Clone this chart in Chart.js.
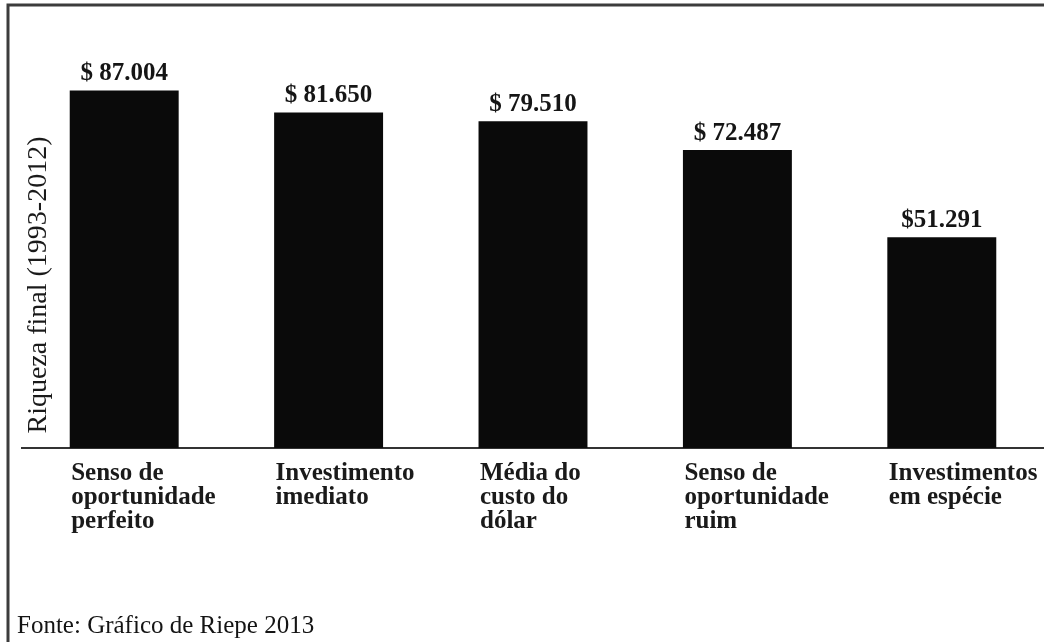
<!DOCTYPE html>
<html>
<head>
<meta charset="utf-8">
<script src="https://cdn.jsdelivr.net/npm/chart.js@4.4.1/dist/chart.umd.min.js"></script>
<style>
  body { margin: 0; background: #fff; }
  #wrap { width: 1044px; height: 642px; position: relative; }
</style>
</head>
<body>
<div id="wrap"><canvas id="graph"></canvas></div>
<script>
// data
const categories = [
    ['Senso de', 'oportunidade', 'perfeito'],
    ['Investimento', 'imediato'],
    ['Média do', 'custo do', 'dólar'],
    ['Senso de', 'oportunidade', 'ruim'],
    ['Investimentos', 'em espécie']
];
const wealth = [87004, 81650, 79510, 72487, 51291];
const valueLabels = ['$ 87.004', '$ 81.650', '$ 79.510', '$ 72.487', '$51.291'];
const axisTitle = 'Riqueza final (1993-2012)';
const source = 'Fonte: Gráfico de Riepe 2013';

const serif = '"Liberation Serif", "Times New Roman", serif';

// frame, y title, source line, value labels and the left aligned category labels
const extras = {
    id: 'extras',
    beforeDraw(chart) {
        const ctx = chart.ctx;
        ctx.save();
        ctx.fillStyle = '#fff';
        ctx.fillRect(0, 0, chart.width, chart.height);
        ctx.strokeStyle = '#3c3c3c';
        ctx.lineWidth = 3;
        ctx.beginPath();
        ctx.moveTo(8, chart.height);
        ctx.lineTo(8, 5);
        ctx.lineTo(chart.width, 5);
        ctx.stroke();
        ctx.restore();
    },
    afterDatasetsDraw(chart) {
        const ctx = chart.ctx;
        const area = chart.chartArea;
        const xScale = chart.scales.x;
        ctx.save();
        ctx.fillStyle = '#151515';
        ctx.font = 'bold 25px ' + serif;
        ctx.textAlign = 'center';
        ctx.textBaseline = 'alphabetic';
        chart.getDatasetMeta(0).data.forEach((bar, i) => {
            ctx.fillText(valueLabels[i], bar.x, bar.y - 10);
        });

        // category names, left edge lined up with the bar
        ctx.textAlign = 'left';
        ctx.fillStyle = '#1a1a1a';
        categories.forEach((lines, i) => {
            const x = xScale.getPixelForValue(i) - 53;
            lines.forEach((line, j) => {
                ctx.fillText(line, x, area.bottom + 32 + j * 24);
            });
        });

        // rotated y title
        ctx.textAlign = 'center';
        ctx.font = '28px ' + serif;
        ctx.translate(46, 285);
        ctx.rotate(-Math.PI / 2);
        ctx.fillText(axisTitle, 0, 0);
        ctx.restore();

        ctx.save();
        ctx.fillStyle = '#141414';
        ctx.font = '25px ' + serif;
        ctx.textAlign = 'left';
        ctx.fillText(source, 17, 633);
        ctx.restore();
    }
};

const chart = new Chart(document.getElementById('graph'), {
    type: 'bar',
    data: {
        labels: categories,
        datasets: [{
            data: wealth,
            backgroundColor: '#0a0a0a',
            borderWidth: 0,
            categoryPercentage: 1,
            barPercentage: 0.533
        }]
    },
    options: {
        responsive: true,
        maintainAspectRatio: false,
        animation: false,
        layout: { padding: { left: 22, right: 0, top: 37, bottom: 194 } },
        plugins: {
            legend: { display: false },
            tooltip: { enabled: false }
        },
        scales: {
            x: {
                grid: { display: false, drawTicks: false },
                border: { display: true, color: '#333', width: 2 },
                ticks: { display: false }
            },
            y: {
                display: false,
                min: 0,
                max: 100000
            }
        }
    },
    plugins: [extras]
});
</script>
</body>
</html>
